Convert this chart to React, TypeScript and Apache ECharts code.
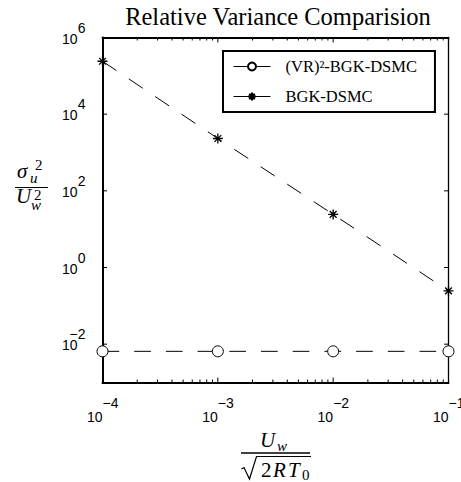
import React, { useEffect, useRef } from "react";
import * as echarts from "echarts";

const title = "Relative Variance Comparision";
const xValues = [1e-4, 1e-3, 1e-2, 1e-1];
const vrValues = [0.0065, 0.0065, 0.0065, 0.0065];
const bgkValues = [2.4e5, 2320, 24.3, 0.245];
const seriesNames = ["(VR)²-BGK-DSMC", "BGK-DSMC"];
const xMajorTicks = [1e-4, 1e-3, 1e-2, 1e-1];
const xMinorTicks = [
  2e-4, 3e-4, 4e-4, 5e-4, 6e-4, 7e-4, 8e-4, 9e-4,
  2e-3, 3e-3, 4e-3, 5e-3, 6e-3, 7e-3, 8e-3, 9e-3,
  2e-2, 3e-2, 4e-2, 5e-2, 6e-2, 7e-2, 8e-2, 9e-2,
];
const yMajorTicks = [1e-2, 1, 1e2, 1e4, 1e6];

const SANS = "Liberation Sans";
const SERIF = "Liberation Serif";
const STAR = "path://M0,5L10,5M5,0L5,10M1.6,1.6L8.4,8.4M8.4,1.6L1.6,8.4";

function expText(v: number) {
  const e = Math.round(Math.log10(v));
  return e < 0 ? "\u2212" + String(-e) : String(e);
}

function tickSeries(values: number[], axis: "x" | "y", len: number) {
  return {
    type: "custom",
    coordinateSystem: "cartesian2d",
    xAxisIndex: 0,
    yAxisIndex: 0,
    silent: true,
    clip: false,
    z: 10,
    data: values.map((v) => (axis === "x" ? [v, 1] : [1e-4, v])),
    renderItem: (params: any, api: any) => {
      const cs = params.coordSys;
      const p = api.coord([api.value(0), api.value(1)]);
      const style = { stroke: "#000", lineWidth: 1 };
      if (axis === "x") {
        const x = p[0];
        return {
          type: "group",
          children: [
            { type: "line", shape: { x1: x, y1: cs.y + cs.height, x2: x, y2: cs.y + cs.height - len }, style },
            { type: "line", shape: { x1: x, y1: cs.y, x2: x, y2: cs.y + len }, style },
          ],
        };
      }
      const y = p[1];
      return {
        type: "group",
        children: [
          { type: "line", shape: { x1: cs.x, y1: y, x2: cs.x + len, y2: y }, style },
          { type: "line", shape: { x1: cs.x + cs.width, y1: y, x2: cs.x + cs.width - len, y2: y }, style },
        ],
      };
    },
  };
}

export default function App() {
  const ref = useRef<HTMLDivElement>(null);
  useEffect(() => {
    if (!ref.current) return;
    const chart = echarts.init(ref.current, undefined, { renderer: "svg" });
    const serifText = (text: string, x: number, y: number, size: number, italic: boolean, align = "left") => ({
      type: "text",
      x,
      y,
      silent: true,
      style: {
        text,
        fill: "#000",
        fontFamily: SERIF,
        fontSize: size,
        fontStyle: italic ? "italic" : "normal",
        align,
        verticalAlign: "middle",
      },
    });
    const option: any = {
      animation: false,
      backgroundColor: "#fff",
      grid: { left: 102.5, right: 12.5, top: 37.5, bottom: 99.5, containLabel: false, outerBoundsMode: "none" },
      legend: {
        data: seriesNames,
        orient: "vertical",
        left: 223,
        top: 51,
        itemWidth: 37,
        itemHeight: 10,
        itemGap: 13,
        padding: [7, 18, 7, 10],
        borderColor: "#000",
        borderWidth: 2,
        backgroundColor: "#fff",
        lineStyle: { type: "solid", width: 1, color: "#000" },
        textStyle: { fontFamily: SERIF, fontSize: 16.5, color: "#000", padding: [0, 0, 0, 10] },
      },
      xAxis: [
        {
          type: "log",
          logBase: 10,
          min: 1e-4,
          max: 1e-1,
          position: "bottom",
          axisLine: { show: true, onZero: false, lineStyle: { color: "#000", width: 2 } },
          axisTick: { show: false },
          splitLine: { show: false },
          axisLabel: {
            show: true,
            margin: 13,
            color: "#000",
            formatter: (v: number) => `{e|${expText(v)}}\n{b|10}`,
            rich: {
              e: { fontFamily: SANS, fontSize: 14, color: "#000", lineHeight: 14.5, padding: [0, 0, 0, 16] },
              b: { fontFamily: SANS, fontSize: 14, color: "#000", lineHeight: 14.5, padding: [0, 15.6, 0, 0] },
            },
          },
        },
        {
          type: "log",
          logBase: 10,
          min: 1e-4,
          max: 1e-1,
          position: "top",
          axisLine: { show: true, onZero: false, lineStyle: { color: "#000", width: 2 } },
          axisTick: { show: false },
          axisLabel: { show: false },
          splitLine: { show: false },
        },
      ],
      yAxis: [
        {
          type: "log",
          logBase: 10,
          min: 1e-3,
          max: 1e6,
          splitNumber: 9,
          position: "left",
          axisLine: { show: true, onZero: false, lineStyle: { color: "#000", width: 2 } },
          axisTick: { show: false },
          splitLine: { show: false },
          axisLabel: {
            show: true,
            margin: 17,
            color: "#000",
            formatter: (v: number) => {
              const e = Math.round(Math.log10(v));
              if (e % 2 !== 0) return "";
              return `{e|${expText(v)}}\n{b|10}`;
            },
            rich: {
              e: { fontFamily: SANS, fontSize: 14, color: "#000", lineHeight: 2 },
              b: { fontFamily: SANS, fontSize: 14, color: "#000", lineHeight: 20, padding: [0, 8, 0, 0] },
            },
          },
        },
        {
          type: "log",
          logBase: 10,
          min: 1e-3,
          max: 1e6,
          position: "right",
          axisLine: { show: true, onZero: false, lineStyle: { color: "#000", width: 1.3 } },
          axisTick: { show: false },
          axisLabel: { show: false },
          splitLine: { show: false },
        },
      ],
      series: [
        {
          name: seriesNames[0],
          type: "line",
          xAxisIndex: 0,
          yAxisIndex: 0,
          data: xValues.map((x, i) => [x, vrValues[i]]),
          symbol: "circle",
          symbolSize: 11,
          clip: false,
          z: 3,
          itemStyle: { color: "#fff", borderColor: "#000", borderWidth: 1 },
          lineStyle: { color: "#000", width: 1, type: [16.7, 15] },
        },
        {
          name: seriesNames[1],
          type: "line",
          xAxisIndex: 0,
          yAxisIndex: 0,
          data: xValues.map((x, i) => [x, bgkValues[i]]),
          symbol: STAR,
          symbolSize: 10,
          clip: false,
          z: 3,
          itemStyle: { color: "#000", borderColor: "#000", borderWidth: 1.3 },
          lineStyle: { color: "#000", width: 1, type: [16.7, 15] },
        },
        tickSeries(xMajorTicks, "x", 5),
        tickSeries(xMinorTicks, "x", 3),
        tickSeries(yMajorTicks, "y", 4.5),
      ],
      graphic: [
        {
          type: "text",
          x: 278,
          y: 16.7,
          silent: true,
          style: {
            text: title,
            fill: "#000",
            fontFamily: SERIF,
            fontSize: 24.5,
            align: "center",
            verticalAlign: "middle",
          },
        },
        // y-axis label: sigma_u^2 / U_w^2
        serifText("σ", 17, 171.4, 21, true),
        serifText("u", 30, 178, 15, true),
        serifText("2", 35, 165, 15, false),
        { type: "line", silent: true, shape: { x1: 15, y1: 187.5, x2: 48, y2: 187.5 }, style: { stroke: "#000", lineWidth: 1.2 } },
        serifText("U", 16, 195.9, 21, true),
        serifText("2", 34, 195, 15, false),
        serifText("w", 31, 205, 15, true),
        // x-axis label: U_w / sqrt(2RT_0)
        serifText("U", 260, 439.9, 21, true),
        serifText("w", 277, 446, 15, true),
        { type: "line", silent: true, shape: { x1: 241, y1: 453, x2: 310, y2: 453 }, style: { stroke: "#000", lineWidth: 1.3 } },
        {
          type: "polyline",
          silent: true,
          shape: { points: [[241.5, 469], [244, 467.5], [249.5, 479], [256.5, 456.5], [311, 456.5]] },
          style: { stroke: "#000", lineWidth: 1.2, fill: "none" },
        },
        serifText("2", 261, 469.9, 21, false),
        serifText("R", 273, 469.9, 21, true),
        serifText("T", 288, 469.9, 21, true),
        serifText("0", 302, 475, 15, false),
      ],
    };
    chart.setOption(option);
    return () => chart.dispose();
  }, []);
  return <div ref={ref} style={{ position: "absolute", left: 0, top: 0, width: 461, height: 482 }} />;
}
